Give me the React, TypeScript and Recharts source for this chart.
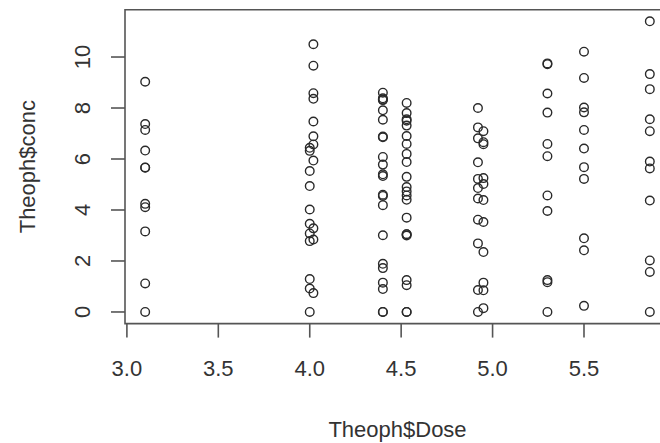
import React from "react";
import { ScatterChart, Scatter, XAxis, YAxis, ReferenceArea } from "recharts";

// Theoph dataset: dose per subject and concentration series per subject
const subjectDoses = [4.02, 4.4, 4.53, 4.4, 5.86, 4.0, 4.95, 4.53, 3.1, 5.5, 4.92, 5.3];

const conc1 = [0.74, 2.84, 6.57, 10.5, 9.66, 8.58, 8.36, 7.47, 6.89, 5.94, 3.28];
const conc2 = [0.0, 1.72, 7.91, 8.31, 8.33, 6.85, 6.08, 5.4, 4.55, 3.01, 0.9];
const conc3 = [0.0, 4.4, 6.9, 8.2, 7.8, 7.5, 6.2, 5.3, 4.9, 3.7, 1.05];
const conc4 = [0.0, 1.89, 4.6, 8.6, 8.38, 7.54, 6.88, 5.78, 5.33, 4.19, 1.15];
const conc5 = [0.0, 2.02, 5.63, 11.4, 9.33, 8.74, 7.56, 7.09, 5.9, 4.37, 1.57];
const conc6 = [0.0, 1.29, 3.08, 6.44, 6.32, 5.53, 4.94, 4.02, 3.46, 2.78, 0.92];
const conc7 = [0.15, 0.85, 2.35, 5.02, 6.58, 7.09, 6.66, 5.25, 4.39, 3.53, 1.15];
const conc8 = [0.0, 3.05, 3.05, 7.31, 7.56, 6.59, 5.88, 4.73, 4.57, 3.0, 1.25];
const conc9 = [0.0, 7.37, 9.03, 7.14, 6.33, 5.66, 5.67, 4.24, 4.11, 3.16, 1.12];
const conc10 = [0.24, 2.89, 5.22, 6.41, 7.83, 10.21, 9.18, 8.02, 7.14, 5.68, 2.42];
const conc11 = [0.0, 4.86, 7.24, 8.0, 6.81, 5.87, 5.22, 4.45, 3.62, 2.69, 0.86];
const conc12 = [0.0, 1.25, 3.96, 7.82, 9.72, 9.75, 8.57, 6.59, 6.11, 4.57, 1.17];

const concBySubject = [conc1, conc2, conc3, conc4, conc5, conc6, conc7, conc8, conc9, conc10, conc11, conc12];

const xTicks = [3.0, 3.5, 4.0, 4.5, 5.0, 5.5];
const yTicks = [0, 2, 4, 6, 8, 10];

const xLabel = "Theoph$Dose";
const yLabel = "Theoph$conc";

const points = concBySubject.flatMap((arr, i) =>
  arr.map((c) => ({ x: subjectDoses[i], y: c }))
);

// R-style 4% padding around the data range
const xMin = 3.1, xMax = 5.86, yMin = 0, yMax = 11.4;
const xPad = (xMax - xMin) * 0.04;
const yPad = (yMax - yMin) * 0.04;
const xDomain: [number, number] = [xMin - xPad, xMax + xPad];
const yDomain: [number, number] = [yMin - yPad, yMax + yPad];

const FONT = "'Liberation Sans', Arial, sans-serif";
const TEXT = "#333";
const LINE = "#555";

const XTick = (props: any) => {
  const { x, payload } = props;
  return (
    <text x={x} y={376} textAnchor="middle" fontFamily={FONT} fontSize={22} fill={TEXT}>
      {Number(payload.value).toFixed(1)}
    </text>
  );
};

const YTick = (props: any) => {
  const { y, payload } = props;
  const tx = 90;
  return (
    <text
      x={tx}
      y={y}
      transform={`rotate(-90, ${tx}, ${y})`}
      textAnchor="middle"
      fontFamily={FONT}
      fontSize={22}
      fill={TEXT}
    >
      {payload.value}
    </text>
  );
};

const Ring = (props: any) => {
  const { cx, cy } = props;
  if (cx == null || cy == null) return null;
  return <circle cx={cx} cy={cy} r={4.3} fill="none" stroke="#2a2a2a" strokeWidth={1.4} />;
};

export default function App() {
  return (
    <div
      style={{
        position: "absolute",
        left: 0,
        top: 0,
        width: 660,
        height: 443,
        overflow: "hidden",
        background: "#fff",
      }}
    >
      <ScatterChart
        width={690}
        height={443}
        margin={{ top: 9.7, right: 20, bottom: 0, left: 0 }}
      >
        <ReferenceArea
          x1={xDomain[0]}
          x2={xDomain[1]}
          y1={yDomain[0]}
          y2={yDomain[1]}
          fill="none"
          stroke={LINE}
          strokeWidth={1.6}
          ifOverflow="visible"
        />
        <XAxis
          type="number"
          dataKey="x"
          domain={xDomain}
          ticks={xTicks}
          allowDataOverflow
          height={119.4}
          axisLine={false}
          tickLine={{ stroke: LINE, strokeWidth: 1.6 }}
          tickSize={14}
          tick={<XTick />}
          interval={0}
          label={{
            content: (p: any) => {
              const vb = p.viewBox || {};
              return (
                <text
                  x={vb.x + vb.width / 2}
                  y={vb.y + 113}
                  textAnchor="middle"
                  fontFamily={FONT}
                  fontSize={22}
                  fill={TEXT}
                >
                  {xLabel}
                </text>
              );
            },
          }}
        />
        <YAxis
          type="number"
          dataKey="y"
          domain={yDomain}
          ticks={yTicks}
          allowDataOverflow
          width={125}
          axisLine={false}
          tickLine={{ stroke: LINE, strokeWidth: 1.6 }}
          tickSize={14}
          tick={<YTick />}
          interval={0}
          label={{
            content: (p: any) => {
              const vb = p.viewBox || {};
              const lx = 35;
              const ly = vb.y + vb.height / 2;
              return (
                <text
                  x={lx}
                  y={ly}
                  transform={`rotate(-90, ${lx}, ${ly})`}
                  textAnchor="middle"
                  fontFamily={FONT}
                  fontSize={22}
                  fill={TEXT}
                >
                  {yLabel}
                </text>
              );
            },
          }}
        />
        <Scatter data={points} shape={<Ring />} isAnimationActive={false} />
      </ScatterChart>
    </div>
  );
}
